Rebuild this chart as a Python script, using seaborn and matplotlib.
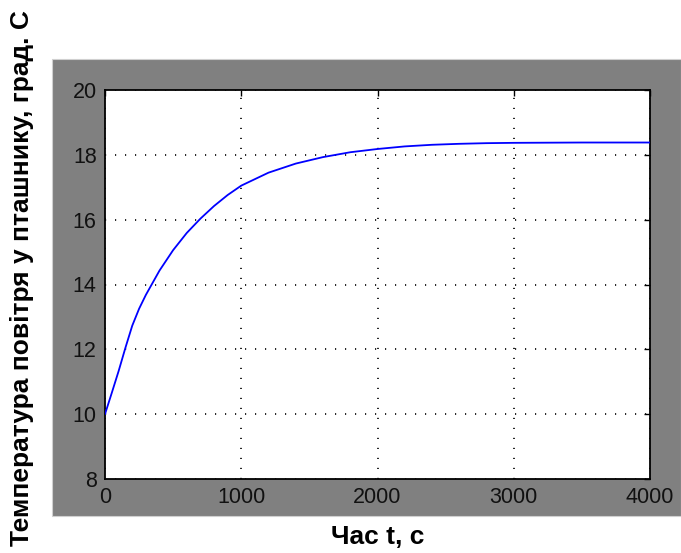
import matplotlib
matplotlib.use("Agg")
import matplotlib.pyplot as plt
import seaborn as sns
import pandas as pd
from matplotlib.patches import Rectangle

# data
time_s = [0, 25, 50, 100, 150, 200, 250, 300, 400, 500, 600, 700, 800, 900, 1000,
          1200, 1400, 1600, 1800, 2000, 2200, 2400, 2600, 2800, 3000, 3500, 4000]
temp_c = [10.0, 10.33, 10.66, 11.33, 12.05, 12.73, 13.25, 13.68, 14.43, 15.06,
          15.59, 16.03, 16.42, 16.76, 17.05, 17.45, 17.73, 17.93, 18.08, 18.18,
          18.26, 18.31, 18.34, 18.36, 18.37, 18.38, 18.38]
x_ticks = [0, 1000, 2000, 3000, 4000]
y_ticks = [8, 10, 12, 14, 16, 18, 20]
x_label = "Час t, с"
y_label = "Температура повітря у пташнику, град. С"

sns.set_theme(style="white")
plt.rcParams['font.family'] = ['Liberation Sans', 'DejaVu Sans']

W, H = 681, 553
fig = plt.figure(figsize=(W / 100, H / 100), dpi=100)
fig.patch.set_facecolor("white")

# gray frame
fig.patches.append(Rectangle((52 / W, 1 - 516 / H), 1 - 52 / W, (516 - 59) / H,
                             transform=fig.transFigure, facecolor="#808080",
                             edgecolor="#d0d0d0", linewidth=0.8, zorder=-5))

ax = fig.add_axes([105 / W, 1 - 479 / H, (650 - 105) / W, (479 - 90) / H])
ax.set_zorder(2)
ax.set_facecolor("white")

df = pd.DataFrame({"t": time_s, "T": temp_c})
sns.lineplot(data=df, x="t", y="T", ax=ax, color="#0000ff", linewidth=1.3, zorder=3)

ax.set_xlim(0, 4000)
ax.set_ylim(8, 20)
ax.set_xticks(x_ticks)
ax.set_yticks(y_ticks)
ax.set_xticklabels([str(v) for v in x_ticks])
ax.set_yticklabels([str(v) for v in y_ticks])
ax.set_xlabel("")
ax.set_ylabel("")

ax.grid(True, color="black", linestyle=(0, (0.7, 5.3)), linewidth=1.2, zorder=1)
ax.tick_params(axis="both", which="both", direction="in", length=4, width=1,
               colors="black", labelsize=15.5, top=True, right=True,
               labelcolor="#111111")
ax.tick_params(axis="x", pad=6)
ax.tick_params(axis="y", pad=6)
for s in ax.spines.values():
    s.set_visible(True)
    s.set_color("black")
    s.set_linewidth(1.3)

fig.text(377.5 / W, 1 - 537 / H, x_label, ha="center", va="center",
         fontsize=19, fontweight="bold", color="black")
fig.text(22 / W, 1 - 278.5 / H, y_label, ha="center", va="center", rotation=90,
         fontsize=19, fontweight="bold", color="black")

fig.savefig("out.png", dpi=100, facecolor="white")
